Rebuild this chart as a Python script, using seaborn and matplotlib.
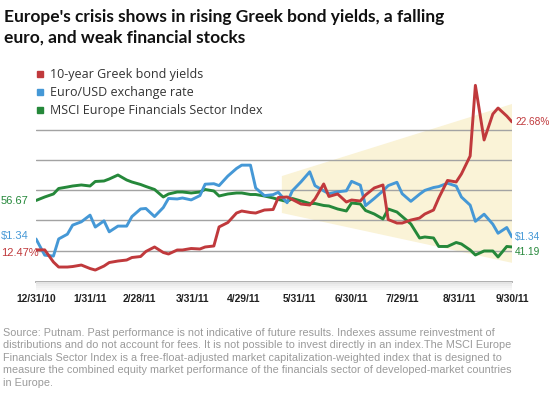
import pandas as pd
import numpy as np
import seaborn as sns
import matplotlib.pyplot as plt
from matplotlib.lines import Line2D
from matplotlib.patches import Rectangle

# every third business day, 12/31/10 -> 9/30/11
dates = pd.bdate_range("2010-12-31", "2011-09-30")[::3]

greek = [12.47, 12.47, 11.50, 11.10, 11.10, 11.14, 11.26, 10.98, 10.86, 11.18,
         11.46, 11.58, 11.66, 11.86, 11.94, 12.34, 12.70, 12.26, 12.14, 12.46,
         12.46, 12.58, 12.54, 12.70, 12.78, 14.30, 14.65, 15.41, 15.57, 15.45,
         15.41, 15.65, 15.69, 16.65, 16.69, 16.49, 16.13, 16.05, 16.53, 17.73,
         16.73, 16.93, 16.29, 16.45, 16.37, 16.85, 17.41, 17.65, 14.89, 14.61,
         14.61, 14.85, 15.01, 15.33, 15.65, 16.61, 18.01, 17.89, 18.53, 19.96,
         25.60, 21.24, 23.31, 23.79, 23.15, 22.68]

eurusd = [1.338, 1.304, 1.302, 1.338, 1.348, 1.367, 1.374, 1.388, 1.363, 1.376,
          1.353, 1.365, 1.365, 1.385, 1.401, 1.402, 1.385, 1.404, 1.423, 1.422,
          1.424, 1.420, 1.429, 1.453, 1.454, 1.450, 1.470, 1.486, 1.493, 1.493,
          1.445, 1.429, 1.431, 1.436, 1.414, 1.439, 1.458, 1.479, 1.450, 1.439,
          1.433, 1.437, 1.439, 1.459, 1.451, 1.408, 1.423, 1.439, 1.450, 1.457,
          1.433, 1.417, 1.432, 1.440, 1.446, 1.448, 1.455, 1.449, 1.426, 1.409,
          1.375, 1.390, 1.369, 1.350, 1.362, 1.342]

msci = [56.67, 57.83, 58.83, 60.66, 61.16, 61.49, 61.83, 61.49, 62.99, 63.16,
        63.82, 65.15, 63.49, 62.82, 61.99, 61.33, 60.33, 57.83, 58.83, 59.49,
        59.49, 59.16, 59.49, 60.33, 59.83, 58.16, 58.83, 59.16, 59.16, 58.66,
        58.66, 58.16, 57.50, 57.00, 56.33, 57.33, 56.50, 55.66, 55.66, 55.00,
        54.83, 53.83, 53.17, 55.83, 55.50, 53.33, 52.17, 50.50, 53.83, 52.83,
        51.33, 48.84, 44.18, 44.51, 44.18, 41.35, 41.35, 42.68, 42.18, 40.18,
        38.52, 39.85, 39.85, 37.85, 41.35, 41.19]

tick_dates = ["2010-12-31", "2011-01-31", "2011-02-28", "2011-03-31", "2011-04-29",
              "2011-05-31", "2011-06-30", "2011-07-29", "2011-08-31", "2011-09-30"]
tick_labels = ["12/31/10", "1/31/11", "2/28/11", "3/31/11", "4/29/11",
               "5/31/11", "6/30/11", "7/29/11", "8/31/11", "9/30/11"]

series_names = ["10-year Greek bond yields", "Euro/USD exchange rate",
                "MSCI Europe Financials Sector Index"]

# widening cone, in index units
cone_dates = ["2011-05-21", "2011-09-30", "2011-09-30", "2011-05-21"]
cone_vals = [64.8, 88.8, 35.9, 52.5]

red, blue, green = "#c0393c", "#4598d6", "#25883a"
arial = ["Liberation Sans", "DejaVu Sans"]

sns.set_theme(style="white")
plt.rcParams["font.family"] = ["DejaVu Sans"]

df = pd.DataFrame({"date": dates, "greek": greek, "eurusd": eurusd, "msci": msci})

W, H = 550, 403
def px(x, y):
    return x / W, 1 - y / H

fig = plt.figure(figsize=(5.5, 4.03), dpi=100)
ax = fig.add_axes([36 / W, 1 - 282 / H, 476 / W, 213 / H])
ax_eu = ax.twinx()
ax_gr = ax.twinx()

# soft shadow under the baseline
for i, c in enumerate(["#e4e4e4", "#ececec", "#f2f2f2", "#f7f7f7"]):
    fig.patches.append(Rectangle(px(36, 284 + 2 * i), 476 / W, 2 / H,
                                 transform=fig.transFigure, color=c, lw=0, zorder=0))

ax.fill(pd.to_datetime(cone_dates), cone_vals, color="#faf3d7", lw=0, zorder=0)

sns.lineplot(data=df, x="date", y="msci", ax=ax, color=green, lw=2.1)
sns.lineplot(data=df, x="date", y="eurusd", ax=ax_eu, color=blue, lw=2.1)
sns.lineplot(data=df, x="date", y="greek", ax=ax_gr, color=red, lw=2.1)

ax.set_ylim(29.52, 100.45)
ax_eu.set_ylim(1.2476, 1.6949)
ax_gr.set_ylim(9.906, 26.904)
ax.set_xlim(dates[0], dates[-1])

ax.set_yticks([40, 50, 60, 70, 80])
ax.yaxis.grid(True, color="#a3a3a3", lw=1)
ax.tick_params(axis="y", left=False, labelleft=False)
for a in (ax_eu, ax_gr):
    a.set_yticks([])
    a.set_ylabel("")
    for s in a.spines.values():
        s.set_visible(False)
for s in ("top", "left", "right"):
    ax.spines[s].set_visible(False)
ax.spines["bottom"].set_color("#a8a8a8")
ax.spines["bottom"].set_linewidth(1.3)
ax.set_xlabel("")
ax.set_ylabel("")

ax.set_xticks(pd.to_datetime(tick_dates))
ax.set_xticklabels(tick_labels, fontfamily=arial, fontweight="bold")
ax.tick_params(axis="x", length=0, pad=9, labelsize=7.4, labelcolor="#222222")

handles = [Line2D([0], [0], marker="s", ls="", color=c, markersize=5)
           for c in (red, blue, green)]
fig.legend(handles, series_names, loc="upper left", bbox_to_anchor=px(34, 68),
           frameon=False, handletextpad=0.3, labelspacing=0.4,
           handlelength=1, borderaxespad=0, borderpad=0,
           labelcolor="#333333", prop={"family": "Open Sans", "size": 9})

# start / end value labels
lab = dict(ha="left", va="center", fontsize=8, fontfamily=arial)
fig.text(*px(1, 200.5), f"{msci[0]:.2f}", color=green, **lab)
fig.text(*px(1, 236), f"${eurusd[0]:.2f}", color=blue, **lab)
fig.text(*px(1, 253), f"{greek[0]:.2f}%", color=red, **lab)
lab["fontsize"] = 7.3
fig.text(*px(515, 122), f"{greek[-1]:.2f}%", color=red, **lab)
fig.text(*px(515, 237), f"${eurusd[-1]:.2f}", color=blue, **lab)
fig.text(*px(515, 252), f"{msci[-1]:.2f}", color=green, **lab)

fig.text(*px(4, 22), "Europe's crisis shows in rising Greek bond yields, a falling",
         fontsize=12.5, fontweight="bold", fontfamily="Lato", color="#111111", va="baseline")
fig.text(*px(4, 43), "euro, and weak financial stocks",
         fontsize=12.5, fontweight="bold", fontfamily="Lato", color="#111111", va="baseline")

note = ("Source: Putnam. Past performance is not indicative of future results. Indexes assume reinvestment of\n"
        "distributions and do not account for fees. It is not possible to invest directly in an index.The MSCI Europe\n"
        "Financials Sector Index is a free-float-adjusted market capitalization-weighted index that is designed to\n"
        "measure the combined equity market performance of the financials sector of developed-market countries\n"
        "in Europe.")
fig.text(*px(3, 328), note, fontsize=7.8, color="#9a9a9a", fontfamily=arial,
         va="top", ha="left", linespacing=1.3)

fig.savefig("out.png", dpi=100)
